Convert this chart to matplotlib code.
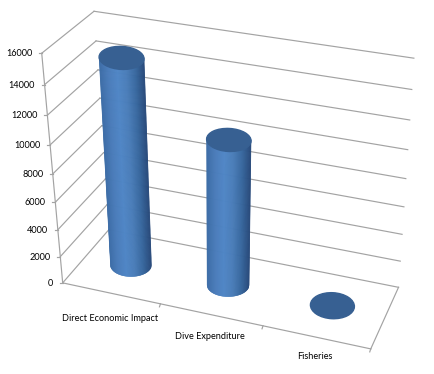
import numpy as np
import matplotlib
matplotlib.use("Agg")
import matplotlib.pyplot as plt
from matplotlib.patches import Ellipse
from matplotlib.colors import LinearSegmentedColormap

plt.rcParams["font.family"] = ["Lato", "DejaVu Sans"]

categories = ["Direct Economic Impact", "Dive Expenditure", "Fisheries"]
values = [14800, 10500, 30]
y_ticks = [0, 2000, 4000, 6000, 8000, 10000, 12000, 14000, 16000]
y_max = 16000

# camera: box corners (cat, depth, value share) -> pixel, fitted to a projection
box = [(0, 0, 0), (3, 0, 0), (0, 1, 0), (3, 1, 0), (0, 0, 1), (0, 1, 1), (3, 1, 1), (0, 0, .5), (3, 1, .5)]
pix = [(62, 283), (371, 349), (110, 230), (398, 287), (43, 54), (93, 11), (414, 58), (52, 173), (406, 179)]

A, b = [], []
for (x, y, z), (u, v) in zip(box, pix):
    A.append([x, y, z, 1, 0, 0, 0, 0, -u * x, -u * y, -u * z])
    A.append([0, 0, 0, 0, x, y, z, 1, -v * x, -v * y, -v * z])
    b += [u, v]
P = np.append(np.linalg.lstsq(np.array(A, float), np.array(b, float), rcond=None)[0], 1).reshape(3, 4)


def project(cat, depth, value):
    p = P @ np.array([cat, depth, value / y_max, 1])
    return p[0] / p[2], p[1] / p[2]


fig = plt.figure(figsize=(4.34, 3.74), dpi=100, facecolor="white")
ax = fig.add_axes([0, 0, 1, 1])
ax.set_xlim(0, 434)
ax.set_ylim(374, 0)
ax.axis("off")

grid = "#a3a3a3"
n = len(categories)


def line(p, q, **kw):
    ax.plot([p[0], q[0]], [p[1], q[1]], color=grid, lw=0.85, zorder=1, **kw)


# walls
for t in y_ticks:
    a = project(0, 0, t)
    c = project(0, 1, t)
    d = project(n, 1, t)
    line(a, c)
    line(c, d)
    line(a, (a[0] - 3, a[1]))
    ax.text(a[0] - 9.5, a[1] + 0.5, str(t), ha="right", va="center", fontsize=6.6, color="#000000")
line(project(0, 0, 0), project(0, 0, y_max))
line(project(0, 0, 0), project(n, 0, 0))
line(project(n, 0, 0), project(n, 1, 0))
for i in range(1, n + 1):
    p = project(i, 0, 0)
    line(p, (p[0] - 1, p[1] + 3))

# category labels
for i, name in enumerate(categories):
    p = project(i + 0.5, 0, 0)
    ax.text(p[0] - 1, p[1] + 25 - 3 * i, name, ha="center", va="center", fontsize=6.6, color="#000000")

# cylinders
body = LinearSegmentedColormap.from_list("body", ["#3c6ca6", "#4a7cba", "#4f86c6", "#4a7db9", "#38689f", "#27497a"])
top_col = "#376092"
for i, val in enumerate(values):
    bx, by = project(i + 0.5, 0.5, 0)
    bx -= 2.5
    tx, ty = project(i + 0.5, 0.5, val)
    rb, rt = 20.5 + 0.5 * i, 22.5 - 0.25 * i
    ry = 11.5
    if val > 100:
        s = np.linspace(-1, 1, 90)
        for k in range(len(s) - 1):
            xs = [s[k], s[k + 1]]
            xx = [tx + rt * xs[0], tx + rt * xs[1], bx + rb * xs[1], bx + rb * xs[0]]
            yy = [ty, ty, by + ry * np.sqrt(1 - xs[1] ** 2), by + ry * np.sqrt(1 - xs[0] ** 2)]
            ax.fill(xx, yy, color=body((s[k] + 1) / 2), lw=0.3, zorder=3)
    ax.add_patch(Ellipse((tx, ty), 2 * rt, 2 * ry if val > 100 else 26, angle=3, color=top_col, zorder=4))

fig.savefig("out.png", dpi=100)
